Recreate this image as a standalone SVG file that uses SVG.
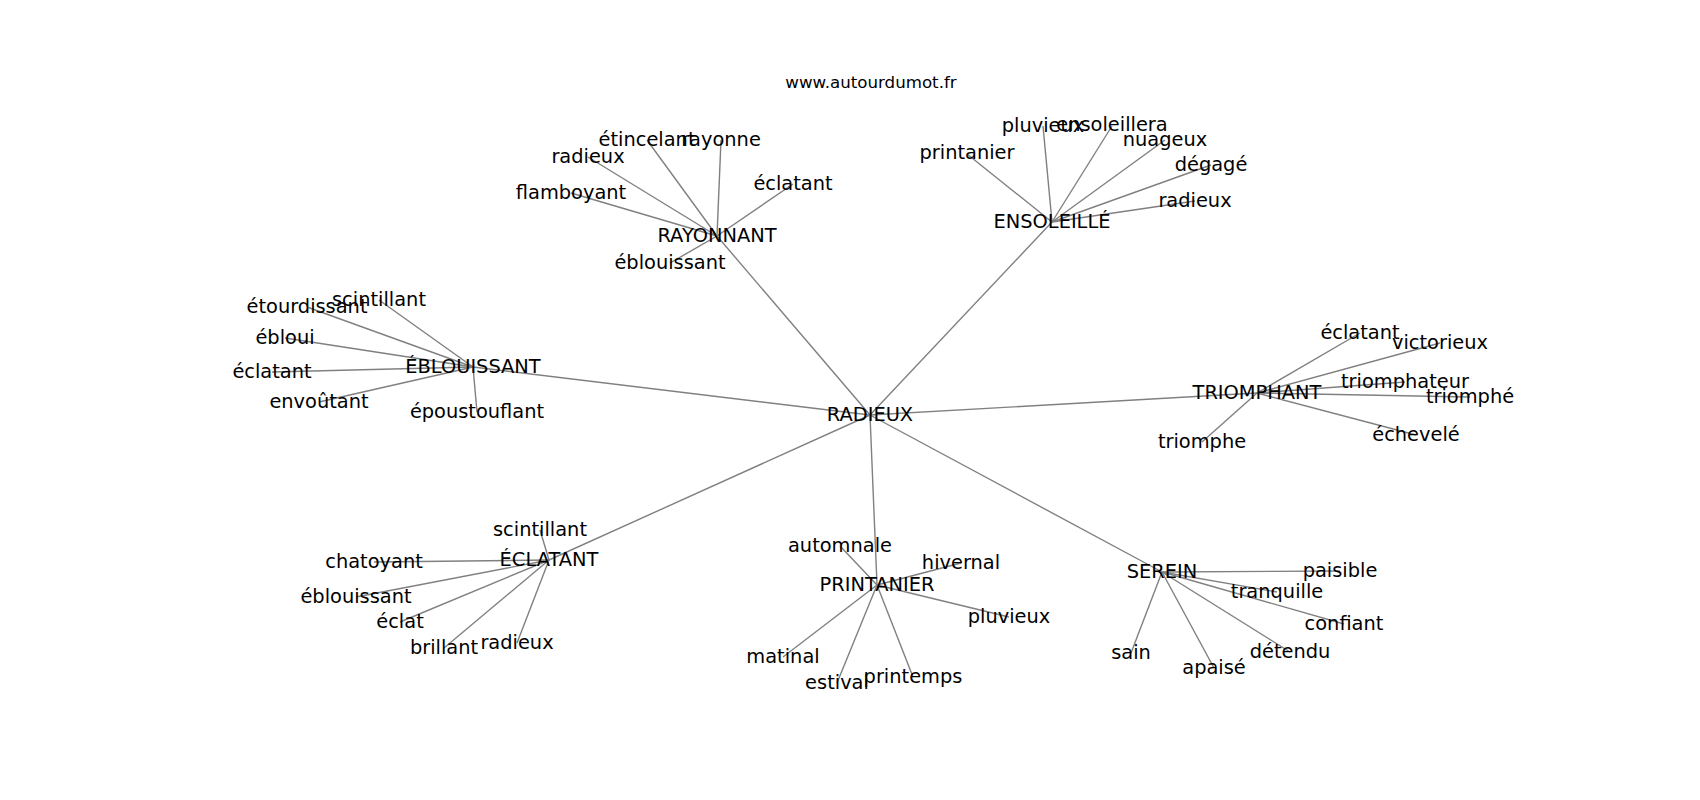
<svg xmlns="http://www.w3.org/2000/svg" width="1700" height="800" viewBox="0 0 1700 800">
<style>
.e{stroke:#808080;stroke-width:1.4;fill:none}
.n text{font-family:"DejaVu Sans","Liberation Sans",sans-serif;font-size:19.4px;fill:#000;text-anchor:middle}
.t{font-family:"DejaVu Sans","Liberation Sans",sans-serif;font-size:16.67px;fill:#000;text-anchor:middle}
</style>
<rect width="1700" height="800" fill="#fff"/>
<text class="t" x="871" y="88">www.autourdumot.fr</text>
<g id="edges">
<line class="e" x1="870" y1="415" x2="473" y2="367"/>
<line class="e" x1="870" y1="415" x2="717" y2="236"/>
<line class="e" x1="870" y1="415" x2="1052" y2="222"/>
<line class="e" x1="870" y1="415" x2="1257" y2="393"/>
<line class="e" x1="870" y1="415" x2="549" y2="560"/>
<line class="e" x1="870" y1="415" x2="877" y2="585"/>
<line class="e" x1="870" y1="415" x2="1162" y2="572"/>
<line class="e" x1="473" y1="367" x2="307" y2="307"/>
<line class="e" x1="473" y1="367" x2="379" y2="300"/>
<line class="e" x1="473" y1="367" x2="285" y2="338"/>
<line class="e" x1="473" y1="367" x2="272" y2="372"/>
<line class="e" x1="473" y1="367" x2="319" y2="402"/>
<line class="e" x1="473" y1="367" x2="477" y2="412"/>
<line class="e" x1="717" y1="236" x2="647" y2="140"/>
<line class="e" x1="717" y1="236" x2="721" y2="140"/>
<line class="e" x1="717" y1="236" x2="588" y2="157"/>
<line class="e" x1="717" y1="236" x2="571" y2="193"/>
<line class="e" x1="717" y1="236" x2="793" y2="184"/>
<line class="e" x1="717" y1="236" x2="670" y2="263"/>
<line class="e" x1="1052" y1="222" x2="967" y2="154"/>
<line class="e" x1="1052" y1="222" x2="1043" y2="126"/>
<line class="e" x1="1052" y1="222" x2="1112" y2="126"/>
<line class="e" x1="1052" y1="222" x2="1165" y2="140"/>
<line class="e" x1="1052" y1="222" x2="1211" y2="165"/>
<line class="e" x1="1052" y1="222" x2="1195" y2="201"/>
<line class="e" x1="1257" y1="393" x2="1360" y2="333"/>
<line class="e" x1="1257" y1="393" x2="1440" y2="343"/>
<line class="e" x1="1257" y1="393" x2="1405" y2="382"/>
<line class="e" x1="1257" y1="393" x2="1470" y2="397"/>
<line class="e" x1="1257" y1="393" x2="1416" y2="435"/>
<line class="e" x1="1257" y1="393" x2="1202" y2="442"/>
<line class="e" x1="549" y1="560" x2="540" y2="530"/>
<line class="e" x1="549" y1="560" x2="374" y2="562"/>
<line class="e" x1="549" y1="560" x2="356" y2="597"/>
<line class="e" x1="549" y1="560" x2="400" y2="622"/>
<line class="e" x1="549" y1="560" x2="444" y2="648"/>
<line class="e" x1="549" y1="560" x2="517" y2="643"/>
<line class="e" x1="877" y1="585" x2="840" y2="546"/>
<line class="e" x1="877" y1="585" x2="961" y2="563"/>
<line class="e" x1="877" y1="585" x2="1009" y2="617"/>
<line class="e" x1="877" y1="585" x2="783" y2="657"/>
<line class="e" x1="877" y1="585" x2="837" y2="683"/>
<line class="e" x1="877" y1="585" x2="913" y2="677"/>
<line class="e" x1="1162" y1="572" x2="1340" y2="571"/>
<line class="e" x1="1162" y1="572" x2="1277" y2="592"/>
<line class="e" x1="1162" y1="572" x2="1344" y2="624"/>
<line class="e" x1="1162" y1="572" x2="1131" y2="653"/>
<line class="e" x1="1162" y1="572" x2="1214" y2="668"/>
<line class="e" x1="1162" y1="572" x2="1290" y2="652"/>
</g>
<g id="n-radieux" class="n"><text x="870" y="421">RADIEUX</text></g>
<g id="n-eblouissant" class="n"><text x="473" y="373">ÉBLOUISSANT</text></g>
<g id="n-eb-etourdissant" class="n"><text x="307" y="313">étourdissant</text></g>
<g id="n-eb-scintillant" class="n"><text x="379" y="306">scintillant</text></g>
<g id="n-eb-ebloui" class="n"><text x="285" y="344">ébloui</text></g>
<g id="n-eb-eclatant" class="n"><text x="272" y="378">éclatant</text></g>
<g id="n-eb-envoutant" class="n"><text x="319" y="408">envoûtant</text></g>
<g id="n-eb-epoustouflant" class="n"><text x="477" y="418">époustouflant</text></g>
<g id="n-rayonnant" class="n"><text x="717" y="242">RAYONNANT</text></g>
<g id="n-ra-etincelant" class="n"><text x="647" y="146">étincelant</text></g>
<g id="n-ra-rayonne" class="n"><text x="721" y="146">rayonne</text></g>
<g id="n-ra-radieux" class="n"><text x="588" y="163">radieux</text></g>
<g id="n-ra-flamboyant" class="n"><text x="571" y="199">flamboyant</text></g>
<g id="n-ra-eclatant" class="n"><text x="793" y="190">éclatant</text></g>
<g id="n-ra-eblouissant" class="n"><text x="670" y="269">éblouissant</text></g>
<g id="n-ensoleille" class="n"><text x="1052" y="228">ENSOLEILLÉ</text></g>
<g id="n-en-printanier" class="n"><text x="967" y="159">printanier</text></g>
<g id="n-en-pluvieux" class="n"><text x="1043" y="132">pluvieux</text></g>
<g id="n-en-ensoleillera" class="n"><text x="1112" y="131">ensoleillera</text></g>
<g id="n-en-nuageux" class="n"><text x="1165" y="146">nuageux</text></g>
<g id="n-en-degage" class="n"><text x="1211" y="171">dégagé</text></g>
<g id="n-en-radieux" class="n"><text x="1195" y="207">radieux</text></g>
<g id="n-triomphant" class="n"><text x="1257" y="399">TRIOMPHANT</text></g>
<g id="n-tr-eclatant" class="n"><text x="1360" y="339">éclatant</text></g>
<g id="n-tr-victorieux" class="n"><text x="1440" y="349">victorieux</text></g>
<g id="n-tr-triomphateur" class="n"><text x="1405" y="388">triomphateur</text></g>
<g id="n-tr-triomphe-acc" class="n"><text x="1470" y="403">triomphé</text></g>
<g id="n-tr-echevele" class="n"><text x="1416" y="441">échevelé</text></g>
<g id="n-tr-triomphe" class="n"><text x="1202" y="448">triomphe</text></g>
<g id="n-eclatant" class="n"><text x="549" y="566">ÉCLATANT</text></g>
<g id="n-ec-scintillant" class="n"><text x="540" y="536">scintillant</text></g>
<g id="n-ec-chatoyant" class="n"><text x="374" y="568">chatoyant</text></g>
<g id="n-ec-eblouissant" class="n"><text x="356" y="603">éblouissant</text></g>
<g id="n-ec-eclat" class="n"><text x="400" y="628">éclat</text></g>
<g id="n-ec-brillant" class="n"><text x="444" y="654">brillant</text></g>
<g id="n-ec-radieux" class="n"><text x="517" y="649">radieux</text></g>
<g id="n-printanier" class="n"><text x="877" y="591">PRINTANIER</text></g>
<g id="n-pr-automnale" class="n"><text x="840" y="552">automnale</text></g>
<g id="n-pr-hivernal" class="n"><text x="961" y="569">hivernal</text></g>
<g id="n-pr-pluvieux" class="n"><text x="1009" y="623">pluvieux</text></g>
<g id="n-pr-matinal" class="n"><text x="783" y="663">matinal</text></g>
<g id="n-pr-estival" class="n"><text x="837" y="689">estival</text></g>
<g id="n-pr-printemps" class="n"><text x="913" y="683">printemps</text></g>
<g id="n-serein" class="n"><text x="1162" y="578">SEREIN</text></g>
<g id="n-se-paisible" class="n"><text x="1340" y="577">paisible</text></g>
<g id="n-se-tranquille" class="n"><text x="1277" y="598">tranquille</text></g>
<g id="n-se-confiant" class="n"><text x="1344" y="630">confiant</text></g>
<g id="n-se-sain" class="n"><text x="1131" y="659">sain</text></g>
<g id="n-se-apaise" class="n"><text x="1214" y="674">apaisé</text></g>
<g id="n-se-detendu" class="n"><text x="1290" y="658">détendu</text></g>
</svg>
